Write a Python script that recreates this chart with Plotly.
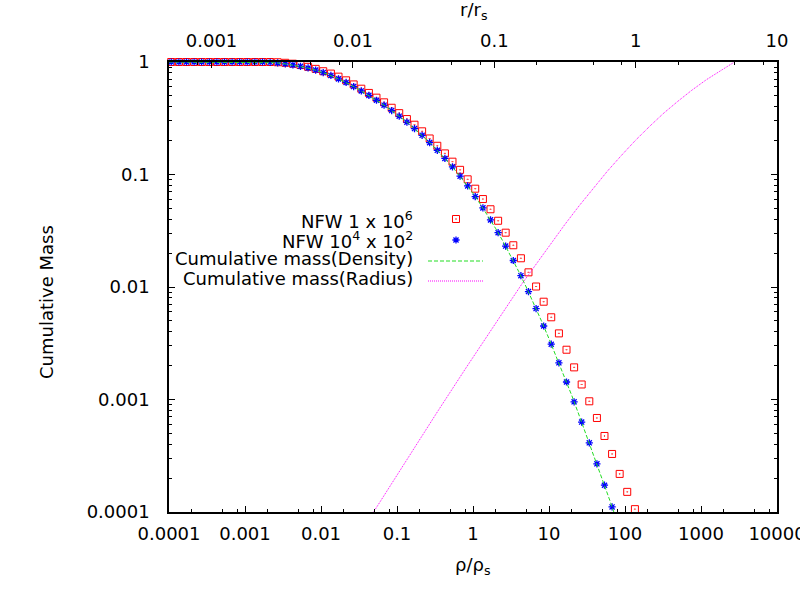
import plotly.graph_objects as go

# density bins (rho / rho_s) of the two simulated haloes
rho_bins = [
    1.07e-4, 1.35e-4, 1.70e-4, 2.14e-4, 2.69e-4, 3.39e-4, 4.27e-4, 5.37e-4, 6.76e-4, 8.51e-4,
    1.07e-3, 1.35e-3, 1.70e-3, 2.14e-3, 2.69e-3, 3.39e-3, 4.27e-3, 5.37e-3, 6.76e-3, 8.51e-3,
    0.0107, 0.0135, 0.0170, 0.0214, 0.0269, 0.0339, 0.0427, 0.0537, 0.0676, 0.0851,
    0.107, 0.135, 0.170, 0.214, 0.269, 0.339, 0.427, 0.537, 0.676, 0.851,
    1.07, 1.35, 1.70, 2.14, 2.69, 3.39, 4.27, 5.37, 6.76, 8.51,
    10.7, 13.5, 17.0, 21.4, 26.9, 33.9, 42.7, 53.7, 67.6, 85.1,
    107, 135,
]

# NFW 1 x 10^6 (red squares)
mass_nfw_1e6 = [
    1, 1, 1, 1, 1, 1, 1, 1, 1, 1, 1, 1, 1, 1,
    0.995, 0.984, 0.966, 0.940, 0.906, 0.869, 0.828, 0.789, 0.741, 0.687,
    0.632, 0.579, 0.531, 0.482, 0.438, 0.392, 0.351, 0.311, 0.277, 0.242,
    0.209, 0.180, 0.154, 0.130, 0.110, 0.0906, 0.0748, 0.0605, 0.0491, 0.0388,
    0.0304, 0.0235, 0.0180, 0.0135, 0.0101, 0.00740, 0.00538, 0.00387, 0.00277, 0.00193,
    0.00136, 0.000964, 0.000685, 0.000474, 0.000328, 0.000218, 0.000151, 0.000106,
]

# NFW 10^4 x 10^2 (blue stars)
mass_nfw_1e4 = [
    1, 1, 1, 1, 1, 1, 1, 1, 1, 1, 1, 1, 1,
    0.993, 0.982, 0.964, 0.942, 0.916, 0.885, 0.847, 0.805, 0.760, 0.708,
    0.658, 0.605, 0.553, 0.505, 0.457, 0.413, 0.370, 0.330, 0.292, 0.256,
    0.223, 0.192, 0.164, 0.139, 0.117, 0.0966, 0.0791, 0.0637, 0.0505, 0.0395,
    0.0304, 0.0231, 0.0172, 0.0126, 0.00910, 0.00643, 0.00450, 0.00310, 0.00212, 0.00143,
    0.000953, 0.000630, 0.000412, 0.000268, 0.000173, 0.000111,
]

# cumulative mass from the density profile (green)
rho_curve = [
    1e-4, 0.002, 0.00251, 0.00316, 0.00398, 0.00501, 0.00631, 0.00794, 0.01, 0.0126,
    0.0158, 0.02, 0.0251, 0.0316, 0.0398, 0.0501, 0.0631, 0.0794, 0.1, 0.126,
    0.158, 0.2, 0.251, 0.316, 0.398, 0.501, 0.631, 0.794, 1, 1.26,
    1.58, 2.0, 2.51, 3.16, 3.98, 5.01, 6.31, 7.94, 10, 12.6,
    15.8, 20, 25.1, 31.6, 39.8, 50.1, 63.1, 79.4,
]
mass_density_curve = [
    1, 0.995, 0.985, 0.969, 0.948, 0.924, 0.894, 0.858, 0.818, 0.774,
    0.723, 0.672, 0.621, 0.568, 0.519, 0.471, 0.426, 0.382, 0.341, 0.303,
    0.266, 0.232, 0.201, 0.172, 0.146, 0.123, 0.102, 0.0840, 0.0679, 0.0541,
    0.0425, 0.0329, 0.0251, 0.0188, 0.0138, 0.0100, 0.00713, 0.00501, 0.00347, 0.00238,
    0.00161, 0.00108, 0.000713, 0.000468, 0.000305, 0.000197, 0.000127, 0.0000809,
]

# cumulative mass against radius r/r_s (magenta, top axis)
r_curve = [
    0.01, 0.0158, 0.0251, 0.0398, 0.0631, 0.0794, 0.1, 0.126, 0.158, 0.2,
    0.251, 0.316, 0.398, 0.501, 0.631, 0.794, 1, 1.26, 1.58, 2.0,
    2.51, 3.16, 3.98, 5.0,
]
mass_radius_curve = [
    5.15e-5, 1.28e-4, 3.18e-4, 7.85e-4, 1.91e-3, 2.97e-3, 4.59e-3, 7.05e-3, 0.0108, 0.0163,
    0.0243, 0.0360, 0.0526, 0.0755, 0.107, 0.148, 0.202, 0.269, 0.351, 0.450,
    0.564, 0.695, 0.841, 1.0,
]

x_ticks = [1e-4, 1e-3, 1e-2, 1e-1, 1, 10, 100, 1000, 10000]
x_labels = ["0.0001", "0.001", "0.01", "0.1", "1", "10", "100", "1000", "10000"]
x2_ticks = [0.001, 0.01, 0.1, 1, 10]
x2_labels = ["0.001", "0.01", "0.1", "1", "10"]
y_ticks = [1e-4, 1e-3, 1e-2, 0.1, 1]
y_labels = ["0.0001", "0.001", "0.01", "0.1", "1"]

FONT = "DejaVu Sans"
W, H = 800, 600
L, R, T, B = 169, 777, 62, 512  # plot area in pixels


def px(x):
    return (x - L) / (R - L)


def py(y):
    return (B - y) / (B - T)


x_minor = [m * 10.0 ** e for e in range(-4, 4) for m in (2, 5, 8)]
x2_minor = [m * 10.0 ** e for e in range(-4, 1) for m in (2, 5, 8)]
y_minor = [m * 10.0 ** e for e in range(-4, 0) for m in range(2, 10)]

RED_MARK = dict(symbol="square-open-dot", size=7, color="#ff0000",
                line=dict(width=1, color="#ff0000"))
BLUE_MARK = dict(symbol="asterisk-open", size=6, color="#0000ff",
                 line=dict(width=1.3, color="#0000ff"))
GREEN_LINE = dict(color="#22dd22", width=1, dash="4px,2px")
MAGENTA_LINE = dict(color="#ff00ff", width=1, dash="1px,1px")

fig = go.Figure()

fig.add_trace(go.Scatter(x=rho_bins, y=mass_nfw_1e6, mode="markers", cliponaxis=False,
                         marker=RED_MARK, hoverinfo="skip"))
fig.add_trace(go.Scatter(x=rho_bins[:len(mass_nfw_1e4)], y=mass_nfw_1e4, mode="markers",
                         cliponaxis=False, marker=BLUE_MARK, hoverinfo="skip"))
fig.add_trace(go.Scatter(x=rho_curve, y=mass_density_curve, mode="lines",
                         line=GREEN_LINE, hoverinfo="skip"))
fig.add_trace(go.Scatter(x=r_curve, y=mass_radius_curve, mode="lines", xaxis="x2",
                         line=MAGENTA_LINE, hoverinfo="skip"))

# legend keys, drawn on a hidden 0..1 axis pair over the plot area
fig.add_trace(go.Scatter(x=[px(456)], y=[py(219)], xaxis="x3", yaxis="y3",
                         mode="markers", marker=RED_MARK, hoverinfo="skip"))
fig.add_trace(go.Scatter(x=[px(456)], y=[py(240)], xaxis="x3", yaxis="y3",
                         mode="markers", marker=BLUE_MARK, hoverinfo="skip"))
fig.add_trace(go.Scatter(x=[px(428), px(483)], y=[py(261), py(261)], xaxis="x3", yaxis="y3",
                         mode="lines", line=GREEN_LINE, hoverinfo="skip"))
fig.add_trace(go.Scatter(x=[px(428), px(483)], y=[py(281), py(281)], xaxis="x3", yaxis="y3",
                         mode="lines", line=MAGENTA_LINE, hoverinfo="skip"))

legend_rows = [
    ("NFW 1 x 10<sup>6</sup>", 220),
    ("NFW 10<sup>4</sup> x 10<sup>2</sup>", 240),
    ("Cumulative mass(Density)", 258),
    ("Cumulative mass(Radius)", 278),
]
annotations = []
for text, y in legend_rows:
    annotations.append(dict(
        x=px(415), y=py(y), xref="paper", yref="paper", text=text, showarrow=False,
        xanchor="right", yanchor="middle", font=dict(family=FONT, size=18, color="black")))

annotations.append(dict(
    x=px(472), y=py(566), xref="paper", yref="paper", text="ρ/ρ<sub>s</sub>",
    showarrow=False, xanchor="center", yanchor="middle",
    font=dict(family=FONT, size=18, color="black")))
annotations.append(dict(
    x=px(473), y=py(11), xref="paper", yref="paper", text="r/r<sub>s</sub>",
    showarrow=False, xanchor="center", yanchor="middle",
    font=dict(family=FONT, size=18, color="black")))
annotations.append(dict(
    x=px(46), y=py(302), xref="paper", yref="paper", text="Cumulative Mass",
    showarrow=False, xanchor="center", yanchor="middle", textangle=-90,
    font=dict(family=FONT, size=18, color="black")))

axis_common = dict(
    type="log", showgrid=False, zeroline=False, showline=True, automargin=False,
    linecolor="black", linewidth=1.5, ticks="inside", ticklen=6, tickwidth=1,
    tickcolor="black", tickfont=dict(family=FONT, size=18, color="black"),
    ticklabeloverflow="allow",
)

fig.update_layout(
    width=W, height=H,
    margin=dict(l=L, r=W - R, t=T, b=H - B, autoexpand=False),
    plot_bgcolor="white", paper_bgcolor="white",
    font=dict(family=FONT, size=18, color="black"),
    showlegend=False,
    xaxis=dict(
        axis_common, range=[-4, 4], tickmode="array", tickvals=x_ticks, ticktext=x_labels,
        ticklabelstandoff=5, mirror=False,
        minor=dict(tickmode="array", tickvals=x_minor, ticks="inside", ticklen=3,
                   tickcolor="black", showgrid=False)),
    xaxis2=dict(
        axis_common, range=[-3.301, 1], overlaying="x", side="top", anchor="y",
        tickmode="array", tickvals=x2_ticks, ticktext=x2_labels, ticklabelstandoff=6,
        minor=dict(tickmode="array", tickvals=x2_minor, ticks="inside", ticklen=3,
                   tickcolor="black", showgrid=False)),
    yaxis=dict(
        axis_common, range=[-4, 0], tickmode="array", tickvals=y_ticks, ticktext=y_labels,
        ticklabelstandoff=14, mirror="ticks",
        minor=dict(tickmode="array", tickvals=y_minor, ticks="inside", ticklen=3,
                   tickcolor="black", showgrid=False)),
    xaxis3=dict(range=[0, 1], overlaying="x", anchor="y3", visible=False),
    yaxis3=dict(range=[0, 1], overlaying="y", anchor="x3", visible=False),
    annotations=annotations,
)

# drop the default page margin so the figure sits at the window's corner
fig.write_html("out.html", config={"displayModeBar": False},
               post_script="document.body.style.margin = '0';")
